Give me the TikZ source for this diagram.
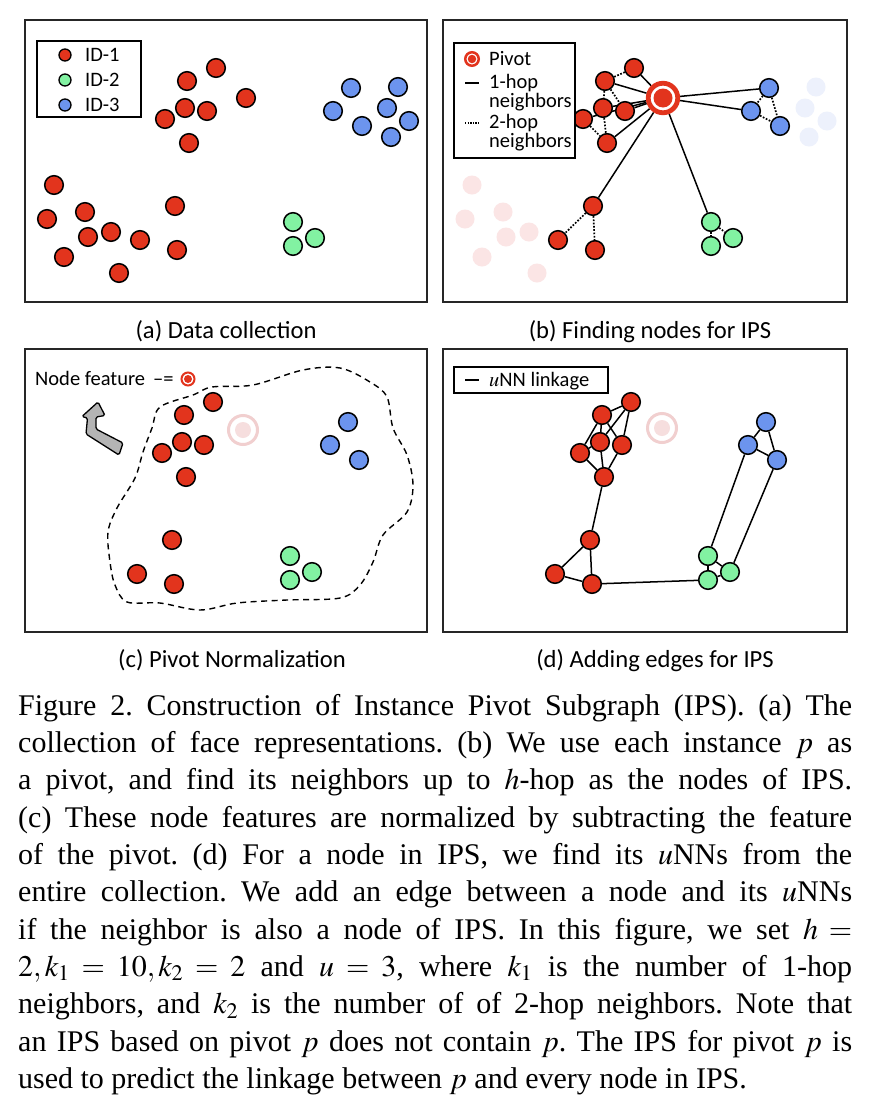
\documentclass[tikz,border=0pt]{standalone}
\usepackage{mathptmx}
\usepackage{fontspec}
\setmainfont{Liberation Serif}
\newfontfamily\carlito{Carlito}
\definecolor{nred}{HTML}{E2341D}
\definecolor{ngreen}{HTML}{82F2A2}
\definecolor{nblue}{HTML}{6C94EE}
\definecolor{fadered}{HTML}{FBE5E5}
\definecolor{fadeblue}{HTML}{EDF1FC}
\definecolor{fadering}{HTML}{F1CFCF}
\definecolor{fadeinner}{HTML}{F6DEDE}
\definecolor{arrowgray}{HTML}{B4B4B4}
\pgfdeclarelayer{bg}
\pgfdeclarelayer{edges}
\pgfsetlayers{bg,edges,main}
\tikzset{
  nd/.style={circle, draw=black, line width=1.5pt, minimum size=18.6pt, inner sep=0pt},
  rn/.style={nd, fill=nred},
  gn/.style={nd, fill=ngreen},
  bn/.style={nd, fill=nblue},
  fr/.style={circle, fill=fadered, minimum size=19pt, inner sep=0pt},
  fb/.style={circle, fill=fadeblue, minimum size=19pt, inner sep=0pt},
  panel/.style={draw=black!85, line width=1.5pt},
  sol/.style={line width=1.5pt},
  dotl/.style={line width=1.7pt, dash pattern=on 1.7pt off 1.6pt},
  lbl/.style={font=\carlito\fontsize{24.6}{28}\selectfont, inner sep=0pt},
  leg/.style={font=\carlito\fontsize{20.5}{22}\selectfont, inner sep=0pt},
  leg2/.style={font=\carlito\fontsize{20.5}{16.8}\selectfont, inner sep=0pt, text width=86pt, align=left},
  legbox/.style={draw=black, line width=1.4pt},
  pring/.style={circle, draw=nred, fill=white, inner sep=0pt},
  pdot/.style={circle, fill=nred, inner sep=0pt},
  fring/.style={circle, draw=fadering, fill=white, line width=3pt, minimum size=29pt, inner sep=0pt},
  fdot/.style={circle, fill=fadeinner, minimum size=16pt, inner sep=0pt},
}
\begin{document}
\frenchspacing
\begin{tikzpicture}[x=1pt,y=-1pt]
\useasboundingbox (0,0) rectangle (868,1114);
\begin{pgfonlayer}{bg}
\fill[white] (0,0) rectangle (868,1114);
\end{pgfonlayer}

% ---------- frames ----------
\draw[panel] (25,20) rectangle (427,302);
\draw[panel] (443,20) rectangle (847,302);
\draw[panel] (25,349) rectangle (427,632);
\draw[panel] (443,349) rectangle (847,632);

% ---------- panel (a) ----------
\foreach \n/\x/\y in {1/216/68,2/187/81,3/246/98,4/185/108,5/207/111,6/165/119,7/189/143,8/54/185,9/47/219,10/85/212,11/88/237,12/111/232,13/140/240,14/64/257,15/119/273,16/175/206,17/177/250}
  \node[rn] (a\n) at (\x,\y) {};
\foreach \n/\x/\y in {1/293/222,2/315/238,3/293/246}
  \node[gn] (ag\n) at (\x,\y) {};
\foreach \n/\x/\y in {1/351/88,2/398/87,3/333/111,4/387/108,5/362/126,6/409/121,7/391/137}
  \node[bn] (ab\n) at (\x,\y) {};
\draw[legbox] (37,41) rectangle (141,117);
\node[rn, minimum size=12pt, line width=1.3pt] (la1) at (65,55) {};
\node[gn, minimum size=12pt, line width=1.3pt] (la2) at (65,80) {};
\node[bn, minimum size=12pt, line width=1.3pt] (la3) at (65,105) {};
\node[leg, anchor=base west] (ta1) at (85,61.5) {ID-1};
\node[leg, anchor=base west] (ta2) at (85,86.5) {ID-2};
\node[leg, anchor=base west] (ta3) at (85,111.5) {ID-3};
\node[lbl, anchor=base] (capa) at (226,338) {(a) Data collection};

% ---------- panel (b) ----------
\begin{scope}[shift={(418,0)}]
\foreach \n/\x/\y in {8/54/185,9/47/219,10/85/212,11/88/237,12/111/232,14/64/257,15/119/273}
  \node[fr] (bf\n) at (\x,\y) {};
\foreach \n/\x/\y in {2/398/87,4/387/108,6/409/121,7/391/137}
  \node[fb] (bfb\n) at (\x,\y) {};
\foreach \n/\x/\y in {1/216/68,2/187/81,4/185/108,5/207/111,6/165/119,7/189/143,13/140/240,16/175/206,17/177/250}
  \node[rn] (b\n) at (\x,\y) {};
\foreach \n/\x/\y in {1/293/222,2/315/238,3/293/246}
  \node[gn] (bg\n) at (\x,\y) {};
\foreach \n/\x/\y in {1/351/88,3/333/111,5/362/126}
  \node[bn] (bb\n) at (\x,\y) {};
\node[pring, line width=4.8pt, minimum size=29.5pt] (bp) at (245,98) {};
\node[pdot, minimum size=19pt] (bpi) at (245,98) {};
\end{scope}
\begin{pgfonlayer}{edges}
\foreach \t in {b1,b2,b4,b5,b6,b7,b16,bg1,bb1,bb3}
  \draw[sol] (bp) -- (\t);
\foreach \s/\t in {b1/b2,b2/b4,b2/b5,b6/b7,b4/b7,b16/b13,b16/b17,bg1/bg3,bg1/bg2,bb1/bb3,bb1/bb5,bb3/bb5}
  \draw[dotl] (\s) -- (\t);
\end{pgfonlayer}
\draw[legbox, fill=white] (454,43) rectangle (575,158);
\node[pring, line width=2.5pt, minimum size=13.5pt] (lbp) at (472,59) {};
\node[pdot, minimum size=8.5pt] (lbpi) at (472,59) {};
\coordinate (l1s) at (465,83); \coordinate (l1e) at (479,83);
\draw[sol] (l1s) -- (l1e);
\coordinate (l2s) at (465,123); \coordinate (l2e) at (479,123);
\draw[line width=1.3pt, dash pattern=on 1.3pt off 1.3pt] (l2s) -- (l2e);
\node[leg, anchor=base west] (tb1) at (489,65.5) {Pivot};
\node[leg2, anchor=base west] (tb2) at (489,88.5) {1-hop\\neighbors};
\node[leg2, anchor=base west] (tb4) at (489,128.5) {2-hop\\neighbors};
\node[lbl, anchor=base] (capb) at (650,338) {(b) Finding nodes for IPS};

% ---------- panel (c) ----------
\draw[line width=1.4pt, dash pattern=on 6pt off 4.5pt] plot[smooth cycle, tension=0.55] coordinates {
 (160,407) (193,395) (212,387) (253,385) (303,370) (340,368) (370,382) (387,397)
 (393,428) (407,455) (413,485) (407,512) (383,535) (373,562) (360,585) (340,598)
 (287,600) (237,603) (200,610) (160,603) (127,602) (115,585) (110,562) (108,532)
 (117,508) (135,478) (143,452) (152,428)};
\begin{scope}[shift={(-3,334)}]
\node[fring] (cp) at (246,96) {};
\node[fdot] (cpi) at (246,96) {};
\foreach \n/\x/\y in {1/216/68,2/187/81,4/185/108,5/207/111,6/165/119,7/189/143,13/140/240,16/175/206,17/177/250}
  \node[rn] (c\n) at (\x,\y) {};
\foreach \n/\x/\y in {1/293/222,2/315/238,3/293/246}
  \node[gn] (cg\n) at (\x,\y) {};
\foreach \n/\x/\y in {1/351/88,3/333/111,5/362/126}
  \node[bn] (cb\n) at (\x,\y) {};
\end{scope}
\node[leg, anchor=base west] (tc1) at (35,385) {Node feature \,–=};
\node[pring, line width=2pt, minimum size=13pt] (lcp) at (188,379) {};
\node[pdot, minimum size=8pt] (lcpi) at (188,379) {};
\draw[line width=1.3pt, fill=arrowgray, rounded corners=1.5pt]
  (123,443) -- (96,429) -- (96,417) -- (105,415.5) -- (98,402) -- (82,416.5) -- (87.5,418)
  -- (86,434) -- (119,455) -- cycle;
\node[lbl, anchor=base] (capc) at (232,667) {(c) Pivot Normalization};

% ---------- panel (d) ----------
\begin{scope}[shift={(415,334)}]
\node[fring] (dp) at (247,94) {};
\node[fdot] (dpi) at (247,94) {};
\foreach \n/\x/\y in {1/216/68,2/187/81,4/185/108,5/207/111,6/165/119,7/189/143,13/140/240,16/175/206,17/177/250}
  \node[rn] (d\n) at (\x,\y) {};
\foreach \n/\x/\y in {1/293/222,2/315/238,3/293/246}
  \node[gn] (dg\n) at (\x,\y) {};
\foreach \n/\x/\y in {1/351/88,3/333/111,5/362/126}
  \node[bn] (db\n) at (\x,\y) {};
\end{scope}
\begin{pgfonlayer}{edges}
\foreach \s/\t in {d1/d2,d1/d4,d1/d5,d2/d6,d2/d4,d2/d5,d6/d4,d6/d7,d4/d7,d5/d7,d7/d16,d16/d13,d16/d17,d13/d17,d17/dg3,dg1/dg3,dg1/dg2,dg3/dg2,dg1/db3,dg2/db5,db1/db3,db1/db5,db3/db5}
  \draw[sol] (\s) -- (\t);
\end{pgfonlayer}
\draw[legbox] (454,367) rectangle (608,393);
\coordinate (l3s) at (465,380); \coordinate (l3e) at (479,380);
\draw[sol] (l3s) -- (l3e);
\node[leg, anchor=base west] (td1) at (489,386) {$u$NN linkage};
\node[lbl, anchor=base] (capd) at (655,667) {(d) Adding edges for IPS};

% ---------- caption ----------
\node[anchor=north west, inner sep=0pt, text width=834pt, align=justify,
      font=\fontsize{30}{37.3}\selectfont] (caption) at (18,694) {%
Figure 2. Construction of Instance Pivot Subgraph (IPS). (a) The\linebreak
collection of face representations. (b) We use each instance $p$ as\linebreak
a pivot, and find its neighbors up to $h$-hop as the nodes of IPS.\linebreak
(c) These node features are normalized by subtracting the feature\linebreak
of the pivot. (d) For a node in IPS, we find its $u$NNs from the\linebreak
entire collection. We add an edge between a node and its $u$NNs\linebreak
if the neighbor is also a node of IPS. In this figure, we set $h =$\linebreak
$2, k_1 = 10, k_2 = 2$ and $u = 3$, where $k_1$ is the number of 1-hop\linebreak
neighbors, and $k_2$ is the number of of 2-hop neighbors. Note that\linebreak
an IPS based on pivot $p$ does not contain $p$. The IPS for pivot $p$ is\linebreak
used to predict the linkage between $p$ and every node in IPS.};
\end{tikzpicture}
\end{document}
